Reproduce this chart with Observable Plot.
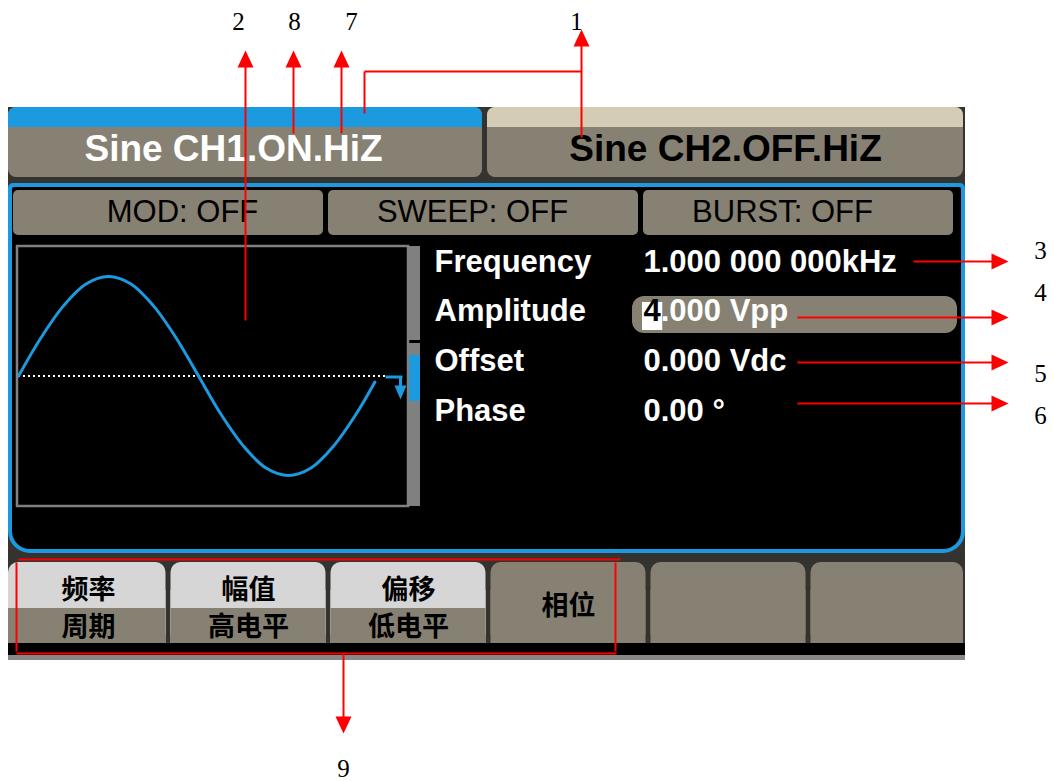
<!DOCTYPE html>
<html><head><meta charset="utf-8">
<script src="https://cdn.jsdelivr.net/npm/d3@7"></script>
<script src="https://cdn.jsdelivr.net/npm/@observablehq/plot@0.6"></script>
<style>
html,body{margin:0;padding:0;background:#fff;overflow:hidden;}
#wrap{position:relative;width:1053px;height:781px;}
#wrap svg{position:absolute;left:0;top:0;}
</style></head><body><div id="wrap"></div>
<script>
// ---------- DATA ----------
const channelLabels = ["Sine CH1.ON.HiZ", "Sine CH2.OFF.HiZ"];
const statusLabels = ["MOD: OFF", "SWEEP: OFF", "BURST: OFF"];
const paramNames = ["Frequency", "Amplitude", "Offset", "Phase"];
const paramValues = ["1.000 000 000kHz", "4.000 Vpp", "0.000 Vdc", "0.00 °"];
const editRow = 1;          // the value being edited (Amplitude)
const editDigitCount = 1;   // the highlighted leading digit "4"
const softkeyTop = ["频率", "幅值", "偏移", "相位", "", ""];
const softkeyBottom = ["周期", "高电平", "低电平", "", "", ""];
const calloutTop = ["2", "8", "7", "1"];
const calloutRight = ["3", "4", "5", "6"];
const calloutBottom = ["9"];
// one period of the displayed sine (time in ms, voltage in V, 4 Vpp, 1 kHz)
const waveTime = [0, 0.0625, 0.125, 0.1875, 0.25, 0.3125, 0.375, 0.4375, 0.5, 0.5625, 0.625, 0.6875, 0.75, 0.8125, 0.875, 0.9375, 0.99];
const waveVolt = [0, 0.77, 1.41, 1.85, 2.0, 1.85, 1.41, 0.77, 0, -0.77, -1.41, -1.85, -2.0, -1.85, -1.41, -0.77, -0.12];

// ---------- LAYOUT / STYLE ----------
const W = 1053, H = 781;
const C = {blue: "#1b9ae0", gray: "#878173", beige: "#d4ccb5", dark: "#35332f",
           light: "#d6d6d6", frame: "#808080", red: "#ff0000", black: "#000", white: "#fff"};
const SANS = "Liberation Sans, Arial, sans-serif";
const SERIF = "Liberation Serif, Times New Roman, serif";
const CJK = "Noto Sans CJK SC, sans-serif";
const box = (x1, x2, y1, y2, fill, rx = 0) => ({x1, x2, y1, y2, fill, rx});

const chanX = [[8, 482], [487, 963]];
const chanTop = [C.blue, C.beige];
const chanInk = [C.white, C.black];
const chanTextX = [233, 725];
const statusTextX = [182, 472, 782];
const rowY = [262, 311, 361, 411];
const labelX = 434, valueX = 643, paramSize = 31;
const digitW = 0.556 * paramSize; // width of one bold digit

// background geometry (drawn in this order)
const shapes = [
  box(8, 965, 107, 660, C.dark),
  box(8, 965, 643, 655, C.black),
  box(8, 965, 655, 660, "#878787"),
  // panel (blue frame, black inside)
  box(8, 965, 183, 553, C.blue, 22),
  box(8, 965, 183, 330, C.blue, 5),
  box(12, 961, 187, 549, C.black, 18),
  box(12, 961, 187, 330, C.black, 2)
];
channelLabels.forEach((_, i) => {
  const [a, b] = chanX[i];
  shapes.push(box(a, b, 107, 177, C.gray, 8), box(a, b, 107, 127, chanTop[i], 8), box(a, b, 117, 127, chanTop[i]));
});
statusLabels.forEach((_, i) => shapes.push(box(13 + 315 * i, 13 + 315 * i + 310, 190, 235, C.gray, 5)));
// softkeys
const skCenter = softkeyTop.map((_, i) => 8 + 160 * i + 80);
softkeyTop.forEach((_, i) => {
  const a = 8 + 160 * i + (i ? 2.5 : 0), b = i === 5 ? 963 : 8 + 160 * (i + 1) - 2.5;
  const two = softkeyBottom[i] !== "";
  const top = two ? C.light : C.gray;
  shapes.push(box(a, b, 562, 643, top, 10), box(a, b, 590, 643, top));
  if (two) shapes.push(box(a, b, 608, 643, C.gray));
});
// scrollbar, amplitude highlight, edit cursor
shapes.push(
  box(408, 420, 246, 340, C.frame),
  box(408, 420, 343, 506, C.frame),
  box(408, 420, 355, 401, C.blue),
  box(632, 957, 296, 333, C.gray, 12),
  box(valueX - 1, valueX + digitW * editDigitCount + 2, 302, 330, C.white)
);
const shapeMarks = shapes.map(s => Plot.rect([s], {x1: "x1", x2: "x2", y1: "y1", y2: "y2", fill: "fill", rx: s.rx}));

// split values: the edited one is drawn as highlighted digit + remainder
const valueParts = [];
paramValues.forEach((v, i) => {
  if (i === editRow) {
    valueParts.push({text: v.slice(0, editDigitCount), row: i, dx: 0, ink: C.black});
    valueParts.push({text: v.slice(editDigitCount), row: i, dx: digitW * editDigitCount, ink: C.white});
  } else valueParts.push({text: v, row: i, dx: 0, ink: C.white});
});

// arrow heads: tip at the dot position
const head = (dx, dy, L = 17, w = 8) => ({draw(ctx) {
  ctx.moveTo(0, 0);
  ctx.lineTo(-dx * L - dy * w, -dy * L + dx * w);
  ctx.lineTo(-dx * L + dy * w, -dy * L - dx * w);
  ctx.closePath();
}});
const UP = head(0, -1), RIGHT = head(1, 0), DOWN = head(0, 1);

const seg = (x1, y1, x2, y2) => ({x1, y1, x2, y2});
const redLines = [
  seg(245, 320, 245, 60), seg(293, 133, 293, 60), seg(341, 133, 341, 60),
  seg(581, 137, 581, 40), seg(364, 113, 364, 71), seg(364, 71, 581, 71),
  seg(913, 261, 998, 261), seg(797, 317, 998, 317), seg(797, 362, 998, 362), seg(797, 403, 998, 403),
  seg(18, 559, 620, 559), seg(16, 562, 16, 651), seg(615, 562, 615, 651), seg(16, 653, 616, 653),
  seg(343, 653, 343, 722)
];
const upHeads = [{x: 245, y: 50}, {x: 293, y: 50}, {x: 341, y: 50}, {x: 581, y: 29}];
const rightHeads = [261, 317, 362, 403].map(y => ({x: 1008, y}));
const downHeads = [{x: 343, y: 733}];
const topNumX = [238, 294, 351, 576];
const rightNumY = [250, 292, 373, 415];

const bg = Plot.plot({
  width: W, height: H, margin: 0,
  x: {domain: [0, W], range: [0, W], axis: null},
  y: {domain: [0, H], range: [0, H], axis: null},
  color: {type: "identity"},
  style: {background: "transparent"},
  marks: [
    ...shapeMarks,
    // wave window frame
    Plot.rect([box(17, 408, 246, 506)], {x1: "x1", x2: "x2", y1: "y1", y2: "y2", fill: "none", stroke: C.frame, strokeWidth: 2.5}),
    // offset marker
    Plot.link([seg(385, 376.5, 402, 376.5), seg(400, 376, 400, 392)], {x1: "x1", y1: "y1", x2: "x2", y2: "y2", stroke: C.blue, strokeWidth: 3}),
    Plot.dot([{x: 400, y: 399}], {x: "x", y: "y", symbol: head(0, 1, 14, 6), r: 5, fill: C.blue, stroke: "none"}),
    // channel tabs
    Plot.text(channelLabels, {x: (d, i) => chanTextX[i], y: 149, text: d => d, fill: (d, i) => chanInk[i],
      fontSize: 37, fontWeight: "bold", fontFamily: SANS}),
    // status tabs
    Plot.text(statusLabels, {x: (d, i) => statusTextX[i], y: 212, text: d => d, fill: C.black,
      fontSize: 31, fontFamily: SANS}),
    // parameters
    Plot.text(paramNames, {x: labelX, y: (d, i) => rowY[i], text: d => d, fill: C.white, textAnchor: "start",
      fontSize: paramSize, fontWeight: "bold", fontFamily: SANS}),
    Plot.text(valueParts, {x: d => valueX + d.dx, y: d => rowY[d.row], text: "text", fill: "ink", textAnchor: "start",
      fontSize: paramSize, fontWeight: "bold", fontFamily: SANS}),
    // softkeys
    Plot.text(softkeyTop, {x: (d, i) => skCenter[i], y: (d, i) => softkeyBottom[i] ? 590 : 606, text: d => d,
      fill: C.black, fontSize: 27, fontWeight: "bold", fontFamily: CJK}),
    Plot.text(softkeyBottom, {x: (d, i) => skCenter[i], y: 627, text: d => d,
      fill: C.black, fontSize: 27, fontWeight: "bold", fontFamily: CJK}),
    // red callouts
    Plot.link(redLines, {x1: "x1", y1: "y1", x2: "x2", y2: "y2", stroke: C.red, strokeWidth: 2}),
    Plot.dot(upHeads, {x: "x", y: "y", symbol: UP, r: 5, fill: C.red, stroke: "none"}),
    Plot.dot(rightHeads, {x: "x", y: "y", symbol: RIGHT, r: 5, fill: C.red, stroke: "none"}),
    Plot.dot(downHeads, {x: "x", y: "y", symbol: DOWN, r: 5, fill: C.red, stroke: "none"}),
    Plot.text(calloutTop, {x: (d, i) => topNumX[i], y: 21, text: d => d, fill: C.black, fontSize: 25, fontFamily: SERIF}),
    Plot.text(calloutRight, {x: 1040, y: (d, i) => rightNumY[i], text: d => d, fill: C.black, fontSize: 25, fontFamily: SERIF}),
    Plot.text(calloutBottom, {x: 343, y: 768, text: d => d, fill: C.black, fontSize: 25, fontFamily: SERIF})
  ]
});

// waveform drawn with its own time / voltage scales over the wave window
const wave = waveTime.map((t, i) => ({t, v: waveVolt[i]}));
const wavePlot = Plot.plot({
  width: W, height: H, margin: 0,
  x: {domain: [0, 1], range: [18, 378], axis: null},
  y: {domain: [-2, 2], range: [475, 276], axis: null},
  style: {background: "transparent"},
  marks: [
    Plot.ruleY([0], {x1: 0, x2: 1.02, stroke: C.white, strokeWidth: 2, strokeDasharray: "2,3"}),
    Plot.line(wave, {x: "t", y: "v", stroke: C.blue, strokeWidth: 3, curve: "catmull-rom"})
  ]
});

const wrap = document.getElementById("wrap");
wrap.appendChild(bg);
wrap.appendChild(wavePlot);
</script></body></html>
